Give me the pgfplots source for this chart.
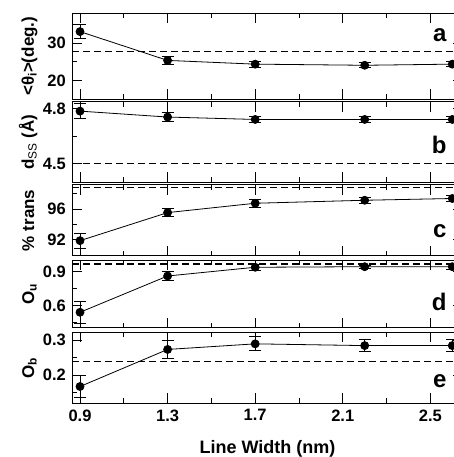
\documentclass[border=0pt]{standalone}
\usepackage{fontspec}
\setmainfont{Liberation Sans}
\usepackage{pgfplots}
\pgfplotsset{compat=1.18}

\pgfplotsset{
  panel/.style={
    scale only axis, width=391pt,
    xmin=0.8634, xmax=2.649,
    xtick={0.9,1.3,1.7,2.1,2.5}, minor xtick={1.1,1.5,1.9,2.3},
    xticklabels={},
    major tick length=10pt, minor tick length=5pt,
    every tick/.style={black, line width=0.9pt},
    axis line style={line width=1pt},
    /pgf/number format/assume math mode=true,
    tick label style={font=\fontsize{16.5}{18}\selectfont\bfseries},
    yticklabel style={inner sep=0pt, xshift=-6pt},
    xticklabel style={inner sep=0pt, yshift=-6pt},
    every axis y label/.style={at={([xshift=-38pt]axis description cs:0,0.5)},
      rotate=90, anchor=base, font=\fontsize{17}{20}\selectfont\bfseries},
    every axis x label/.style={at={([yshift=-50pt]axis description cs:0.5,0)},
      anchor=base, font=\fontsize{18}{20}\selectfont\bfseries},
  },
  dat/.style={black, line width=0.8pt, mark=*, mark size=4pt,
    error bars/.cd, y dir=both, y explicit,
    error bar style={line width=0.8pt},
    error mark options={rotate=90, mark size=6pt, line width=0.8pt}},
  ref/.style={black, line width=1.1pt, dash pattern=on 7pt off 4pt, forget plot},
}

\begin{document}
\begin{tikzpicture}
% a
\begin{axis}[panel, at={(72pt,-13.3pt)}, anchor=north west, height=86pt,
  ymin=15, ymax=38, ytick={20,30}, yticklabels={20,30}, minor ytick={15,25,35},
  ylabel={<θ\textsubscript{i}>(deg.)}]
  \addplot[dat] table[x=x, y=y, y error=e] {
    x   y     e
    0.9 33.1  1.9
    1.3 25.4  1.1
    1.7 24.4  0.8
    2.2 24.1  0.7
    2.6 24.4  0.7
  };
  \addplot[ref] coordinates {(0.8634,27.75) (2.649,27.75)};
\end{axis}
% b
\begin{axis}[panel, at={(72pt,-101.7pt)}, anchor=north west, height=80.6pt,
  ymin=4.40, ymax=4.836, ytick={4.5,4.8}, yticklabels={4.5,4.8}, minor ytick={4.65},
  ylabel={d\textsubscript{\normalfont SS} (Å)}]
  \addplot[dat] table[x=x, y=y, y error=e] {
    x   y      e
    0.9 4.785  0.04
    1.3 4.753  0.025
    1.7 4.740  0.015
    2.2 4.740  0.015
    2.6 4.740  0.015
  };
  \addplot[ref] coordinates {(0.8634,4.5) (2.649,4.5)};
\end{axis}
% c
\begin{axis}[panel, at={(72pt,-184.7pt)}, anchor=north west, height=71.3pt,
  ymin=89.9, ymax=99.2, ytick={92,96}, yticklabels={92,96}, minor ytick={94,98},
  ylabel={\% trans}]
  \addplot[dat] table[x=x, y=y, y error=e] {
    x   y      e
    0.9 91.9   1.0
    1.3 95.56  0.55
    1.7 96.78  0.5
    2.2 97.17  0.35
    2.6 97.4   0.35
  };
  \addplot[ref] coordinates {(0.8634,98.87) (2.649,98.87)};
\end{axis}
% d
\begin{axis}[panel, at={(72pt,-260pt)}, anchor=north west, height=67.7pt,
  ymin=0.406, ymax=1.003, ytick={0.6,0.9}, yticklabels={0.6,0.9}, minor ytick={0.45,0.75},
  ylabel={O\textsubscript{u}}]
  \addplot[dat] table[x=x, y=y, y error=e] {
    x   y      e
    0.9 0.542  0.097
    1.3 0.862  0.043
    1.7 0.939  0.027
    2.2 0.944  0.015
    2.6 0.944  0.02
  };
  \addplot[ref] coordinates {(0.8634,0.968) (2.649,0.968)};
\end{axis}
% e
\begin{axis}[panel, at={(72pt,-332.3pt)}, anchor=north west, height=71pt,
  ymin=0.119, ymax=0.322, ytick={0.2,0.3}, yticklabels={0.2,0.3}, minor ytick={0.15,0.25},
  xticklabels={0.9,1.3,1.7,2.1,2.5},
  ylabel={O\textsubscript{b}}, xlabel={Line Width (nm)}]
  \addplot[dat] table[x=x, y=y, y error=e] {
    x   y      e
    0.9 0.167  0.031
    1.3 0.273  0.026
    1.7 0.289  0.02
    2.2 0.284  0.017
    2.6 0.284  0.017
  };
  \addplot[ref] coordinates {(0.8634,0.238) (2.649,0.238)};
\end{axis}
\begin{scope}[every node/.style={anchor=base east, inner sep=0pt, font=\fontsize{24}{26}\selectfont\bfseries}]
  \node at (446.7pt,-41.7pt) {a};
  \node at (446.7pt,-153.3pt) {b};
  \node at (446.7pt,-237.3pt) {c};
  \node at (446.7pt,-310pt) {d};
  \node at (446.7pt,-387.3pt) {e};
\end{scope}
\pgfresetboundingbox
\useasboundingbox (0,0) rectangle (454pt,-457pt);
\end{tikzpicture}
\end{document}
